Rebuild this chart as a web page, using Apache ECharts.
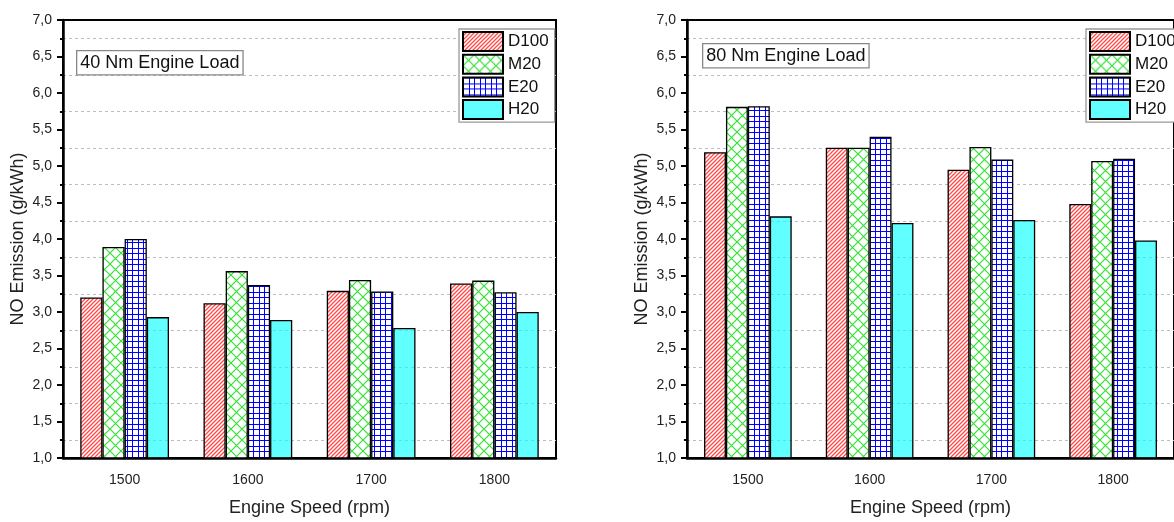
<!DOCTYPE html>
<html>
<head>
<meta charset="utf-8">
<script src="https://cdn.jsdelivr.net/npm/echarts@6/dist/echarts.min.js"></script>
<style>
html,body{margin:0;padding:0;background:#fff;}
#chart{width:1174px;height:522px;}
</style>
</head>
<body>
<div id="chart"></div>
<script>
const categories = ['1500', '1600', '1700', '1800'];
const seriesNames = ['D100', 'M20', 'E20', 'H20'];
const load40_D100 = [3.20, 3.12, 3.29, 3.39];
const load40_M20  = [3.89, 3.56, 3.44, 3.43];
const load40_E20  = [4.00, 3.37, 3.28, 3.27];
const load40_H20  = [2.93, 2.89, 2.78, 3.00];
const load80_D100 = [5.19, 5.25, 4.95, 4.48];
const load80_M20  = [5.81, 5.25, 5.26, 5.07];
const load80_E20  = [5.82, 5.40, 5.09, 5.10];
const load80_H20  = [4.31, 4.22, 4.26, 3.98];
const panelTitles = ['40 Nm Engine Load', '80 Nm Engine Load'];
const xTitle = 'Engine Speed (rpm)';
const yTitle = 'NO Emission (g/kWh)';
const yMin = 1, yMax = 7, yStep = 0.5;

const FONT = "'Liberation Sans', Arial, sans-serif";

function makeCanvas(w, h) {
  const c = document.createElement('canvas');
  c.width = w; c.height = h;
  return c;
}
function patD100() {
  const c = makeCanvas(4, 4), g = c.getContext('2d');
  g.fillStyle = '#fff'; g.fillRect(0, 0, 4, 4);
  g.strokeStyle = '#ff4a4a'; g.lineWidth = 1.3;
  g.beginPath();
  g.moveTo(-1, 5); g.lineTo(5, -1);
  g.moveTo(-1, 1); g.lineTo(1, -1);
  g.moveTo(3, 5); g.lineTo(5, 3);
  g.stroke();
  return c;
}
function patM20() {
  const s = 11;
  const c = makeCanvas(s, s), g = c.getContext('2d');
  g.fillStyle = '#fff'; g.fillRect(0, 0, s, s);
  g.strokeStyle = '#33e033'; g.lineWidth = 1.2;
  g.beginPath();
  g.moveTo(0, 0); g.lineTo(s, s);
  g.moveTo(0, s); g.lineTo(s, 0);
  g.stroke();
  return c;
}
function patE20() {
  const s = 11;
  const c = makeCanvas(s, s), g = c.getContext('2d');
  g.fillStyle = '#fff'; g.fillRect(0, 0, s, s);
  g.fillStyle = '#0000ff';
  g.fillRect(0, 0, s, 1); g.fillRect(0, 6, s, 1);
  g.fillRect(0, 0, 1, s); g.fillRect(6, 0, 1, s);
  return c;
}
const fills = [
  { image: patD100(), repeat: 'repeat' },
  { image: patM20(), repeat: 'repeat' },
  { image: patE20(), repeat: 'repeat' },
  'rgba(0,255,255,0.62)'
];

const data40 = [load40_D100, load40_M20, load40_E20, load40_H20];
const data80 = [load80_D100, load80_M20, load80_E20, load80_H20];

const grids = [
  { left: 63, top: 20, width: 493, height: 444 },
  { left: 687, top: 20, width: 493, height: 444 }
];

function fmt(v) { return v.toFixed(1).replace('.', ','); }

const xAxes = grids.map((g, i) => ({
  type: 'category', gridIndex: i, data: categories,
  axisLine: { lineStyle: { color: '#000', width: 2.5 } },
  axisTick: { alignWithLabel: true, length: 5, lineStyle: { color: '#000', width: 2 } },
  axisLabel: { fontFamily: FONT, fontSize: 14, color: '#222', margin: 15 },
  name: xTitle, nameLocation: 'middle', nameGap: 41,
  nameTextStyle: { fontFamily: FONT, fontSize: 18, color: '#222' }
}));
const yAxes = grids.map((g, i) => ({
  type: 'value', gridIndex: i, min: yMin, max: yMax, interval: yStep,
  axisLine: { show: true, lineStyle: { color: '#000', width: 2.5 } },
  axisTick: { show: true, length: 6, lineStyle: { color: '#000', width: 2 } },
  minorTick: { show: true, splitNumber: 2, length: 3, lineStyle: { color: '#000', width: 2 } },
  splitLine: { show: false },
  minorSplitLine: { show: true, lineStyle: { color: '#bdbdbd', type: [3, 3], width: 1 } },
  axisLabel: { fontFamily: FONT, fontSize: 14, color: '#222', margin: 11, formatter: fmt },
  name: yTitle, nameLocation: 'middle', nameGap: 36,
  nameTextStyle: { fontFamily: FONT, fontSize: 18, color: '#222' }
}));

const series = [];
[data40, data80].forEach((set, gi) => {
  set.forEach((vals, si) => {
    series.push({
      type: 'bar', name: seriesNames[si], xAxisIndex: gi, yAxisIndex: gi,
      data: vals, barGap: '0%', barCategoryGap: '28%',
      itemStyle: { color: fills[si], borderColor: '#000', borderWidth: 1.3 },
      emphasis: { disabled: true }, animation: false
    });
  });
});

const legends = [459, 1086].map(l => ({
  orient: 'vertical', left: l, top: 29, data: seriesNames,
  icon: 'rect', itemWidth: 40, itemHeight: 19, itemGap: 1.7,
  padding: [2, 6, 2, 3], borderColor: '#999', borderWidth: 1.3, backgroundColor: '#fff',
  textStyle: { fontFamily: FONT, fontSize: 17, lineHeight: 18, color: '#111' },
  selectedMode: false
}));

const chart = echarts.init(document.getElementById('chart'), null, { renderer: 'canvas' });
chart.setOption({
  animation: false,
  grid: grids.map(g => Object.assign({ show: true, borderColor: '#000', borderWidth: 2, backgroundColor: 'transparent' }, g)),
  xAxis: xAxes,
  yAxis: yAxes,
  legend: legends,
  series: series,
  graphic: [
    { type: 'text', left: 76, top: 50, z: 100,
      style: { text: panelTitles[0], font: '18px ' + FONT, fill: '#111',
               backgroundColor: '#fff', borderColor: '#888', borderWidth: 1.3, padding: [3, 3, 2, 3] } },
    { type: 'text', left: 702, top: 43, z: 100,
      style: { text: panelTitles[1], font: '18px ' + FONT, fill: '#111',
               backgroundColor: '#fff', borderColor: '#888', borderWidth: 1.3, padding: [3, 3, 2, 3] } }
  ]
});
</script>
</body>
</html>
